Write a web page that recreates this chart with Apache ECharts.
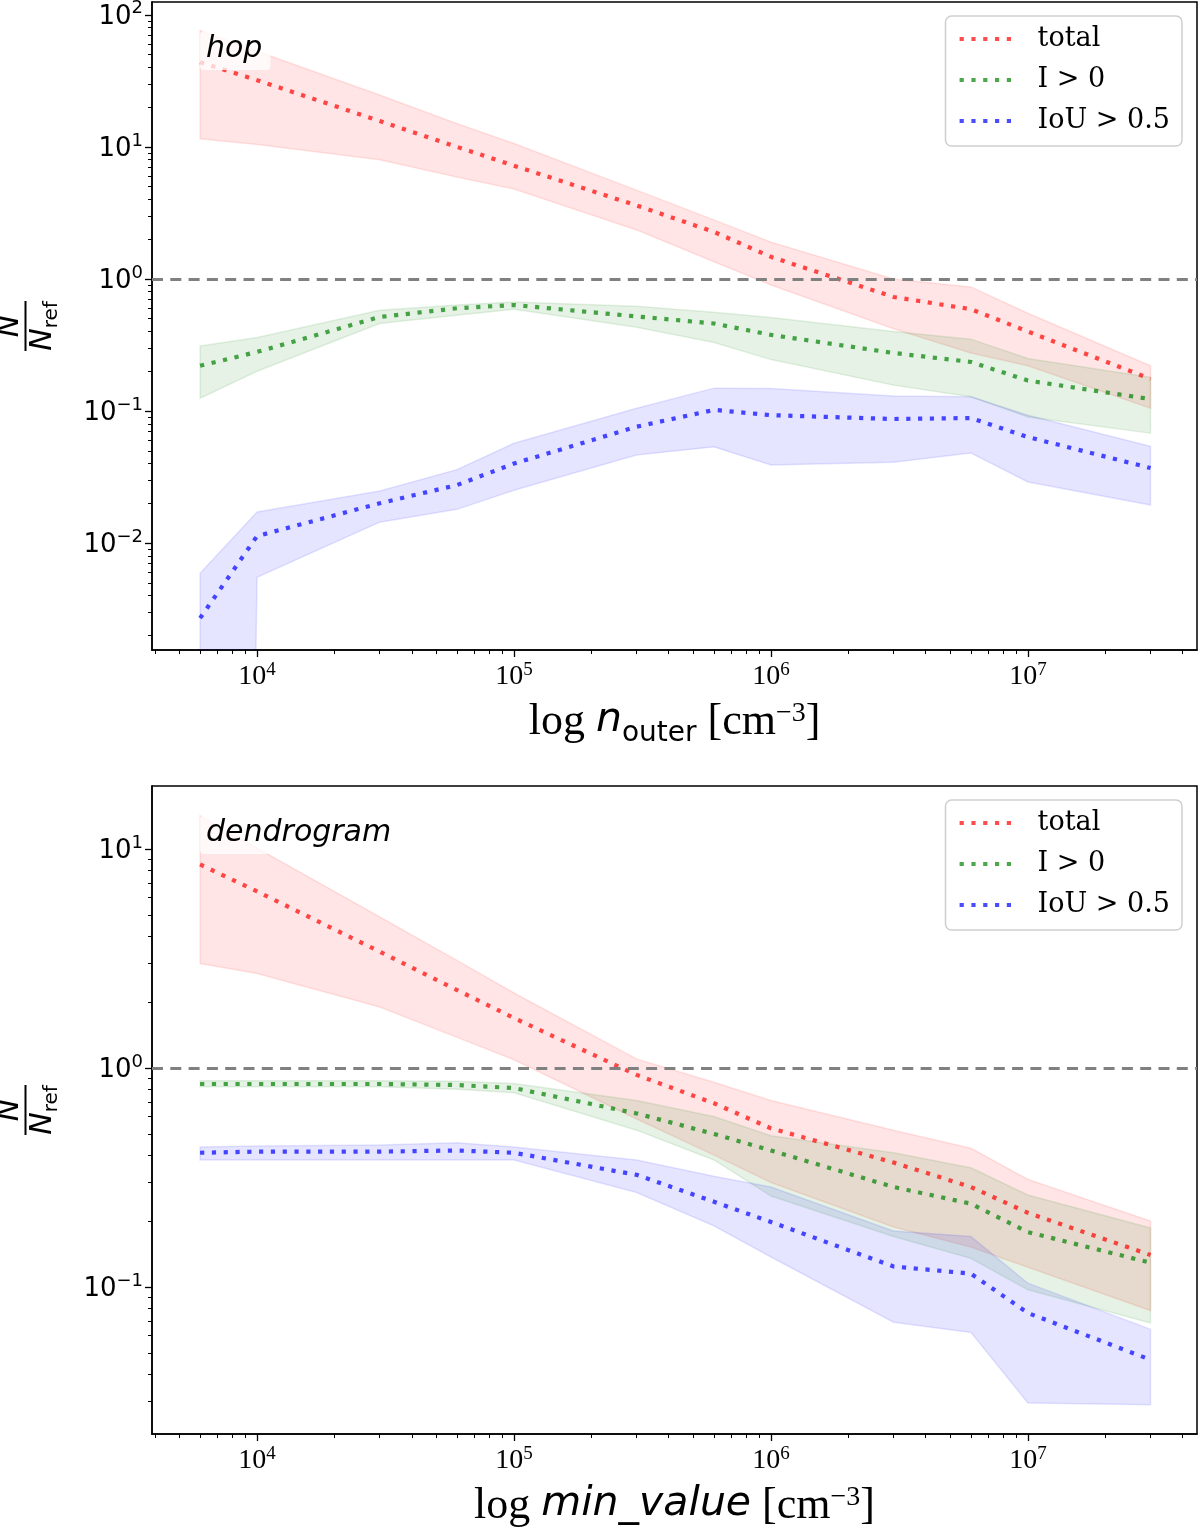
<!DOCTYPE html>
<html>
<head>
<meta charset="utf-8">
<title>N / Nref vs density threshold</title>
<script src="https://cdn.jsdelivr.net/npm/echarts@6/dist/echarts.min.js"></script>
<style>
  html, body { margin: 0; padding: 0; background: #fff; }
  #chart { width: 1200px; height: 1532px; }
</style>
</head>
<body>
<div id="chart"></div>
<script>
// x positions shared by both panels (cm^-3)
const xValues = [6e3, 1e4, 3e4, 6e4, 1e5, 3e5, 6e5, 1e6, 3e6, 6e6, 1e7, 3e7];
// stands for a lower bound of 0 (falls far below the log axis)
const ZERO = 1e-30;

// --- hop panel ---
const hopTotal = [43.8, 32, 15.7, 10, 7.2, 3.6, 2.27, 1.47, 0.73, 0.59, 0.40, 0.175];
const hopTotalHi = [76, 53, 24.7, 15, 10.6, 4.7, 2.8, 1.9, 1.0, 0.87, 0.55, 0.22];
const hopTotalLo = [11.5, 10.4, 8, 5.9, 4.8, 2.35, 1.35, 0.9, 0.42, 0.275, 0.22, 0.105];
const hopInter = [0.22, 0.28, 0.515, 0.6, 0.635, 0.52, 0.46, 0.377, 0.275, 0.235, 0.17, 0.123];
const hopInterHi = [0.31, 0.36, 0.58, 0.635, 0.67, 0.62, 0.56, 0.51, 0.40, 0.35, 0.25, 0.18];
const hopInterLo = [0.125, 0.2, 0.46, 0.53, 0.59, 0.43, 0.33, 0.245, 0.157, 0.128, 0.09, 0.068];
const hopIou = [0.0027, 0.0113, 0.02, 0.0275, 0.040, 0.076, 0.102, 0.093, 0.087, 0.0885, 0.0635, 0.037];
const hopIouHi = [0.0059, 0.0172, 0.0248, 0.036, 0.057, 0.105, 0.149, 0.148, 0.13, 0.128, 0.093, 0.054];
const hopIouLo = [ZERO, 0.0055, 0.0144, 0.018, 0.0251, 0.0465, 0.0535, 0.039, 0.041, 0.048, 0.029, 0.0194];

// --- dendrogram panel ---
const denTotal = [8.5, 6.4, 3.4, 2.27, 1.69, 0.93, 0.69, 0.53, 0.37, 0.286, 0.218, 0.14];
const denTotalHi = [14.2, 10.1, 4.9, 3.1, 2.2, 1.1, 0.86, 0.71, 0.52, 0.43, 0.31, 0.2];
const denTotalLo = [3.0, 2.7, 1.9, 1.38, 1.09, 0.585, 0.40, 0.30, 0.188, 0.152, 0.123, 0.078];
const denInter = [0.845, 0.845, 0.845, 0.836, 0.81, 0.62, 0.50, 0.42, 0.286, 0.24, 0.178, 0.129];
const denInterHi = [0.875, 0.875, 0.875, 0.87, 0.85, 0.71, 0.6, 0.49, 0.41, 0.35, 0.263, 0.186];
const denInterLo = [0.82, 0.82, 0.82, 0.80, 0.77, 0.52, 0.38, 0.26, 0.17, 0.135, 0.097, 0.0685];
const denIou = [0.41, 0.415, 0.415, 0.42, 0.41, 0.325, 0.245, 0.198, 0.124, 0.115, 0.076, 0.0465];
const denIouHi = [0.436, 0.44, 0.445, 0.455, 0.436, 0.38, 0.32, 0.286, 0.18, 0.17, 0.104, 0.064];
const denIouLo = [0.38, 0.38, 0.38, 0.38, 0.38, 0.27, 0.19, 0.137, 0.069, 0.062, 0.0295, 0.029];

const seriesNames = ['total', 'I > 0', 'IoU > 0.5'];
const panelLabels = ['hop', 'dendrogram'];
const xNames = [
  '{rm|log }{it|n}{sub|outer}{rm| [cm}{sup|−3}{rm|]}',
  '{rm|log }{it|min_value}{rm| [cm}{sup|−3}{rm|]}'
];

// axis ranges and ticks
const xRange = [3.9e3, 4.55e7];
const yRanges = [[1.55e-3, 125], [0.0213, 19.4]];
const xMajorTicks = [1e4, 1e5, 1e6, 1e7];
const yMajorTicks = [[1e-2, 1e-1, 1, 10, 100], [1e-1, 1, 10]];
const refLevel = 1;

const lineColors = ['rgba(255,0,0,0.7)', 'rgba(0,128,0,0.7)', 'rgba(0,0,255,0.7)'];
const bandColors = ['rgba(255,0,0,0.1)', 'rgba(0,128,0,0.1)', 'rgba(0,0,255,0.1)'];

// 2..9 x 10^e for every decade between lo and hi
function minorTicks(lo, hi) {
  const out = [];
  for (let e = lo; e <= hi; e++) {
    for (let m = 2; m <= 9; m++) out.push(+(m * Math.pow(10, e)).toPrecision(6));
  }
  return out;
}

function powLabel(value) {
  const e = Math.round(Math.log10(value));
  return '{b|10}{e|' + (e < 0 ? '−' + (-e) : e) + '}';
}

const panelData = [
  { mid: [hopTotal, hopInter, hopIou], lo: [hopTotalLo, hopInterLo, hopIouLo], hi: [hopTotalHi, hopInterHi, hopIouHi] },
  { mid: [denTotal, denInter, denIou], lo: [denTotalLo, denInterLo, denIouLo], hi: [denTotalHi, denInterHi, denIouHi] }
];

const gridTops = [2, 786];
const black = '#000';

const xTickRich = {
  b: { fontFamily: 'Liberation Serif', fontSize: 28, color: black, lineHeight: 30, verticalAlign: 'bottom' },
  e: { fontFamily: 'Liberation Serif', fontSize: 19, color: black, lineHeight: 30, verticalAlign: 'top' }
};
const yTickRich = {
  b: { fontFamily: 'DejaVu Sans', fontSize: 26, color: black, lineHeight: 30, verticalAlign: 'bottom' },
  e: { fontFamily: 'DejaVu Sans', fontSize: 18, color: black, lineHeight: 30, verticalAlign: 'top' }
};
const xNameRich = {
  rm: { fontFamily: 'Liberation Serif', fontSize: 44, color: black, lineHeight: 48, verticalAlign: 'top' },
  it: { fontFamily: 'DejaVu Sans', fontStyle: 'italic', fontSize: 41, color: black, lineHeight: 48, verticalAlign: 'top' },
  sub: { fontFamily: 'DejaVu Sans', fontSize: 28, color: black, lineHeight: 48, verticalAlign: 'bottom' },
  sup: { fontFamily: 'Liberation Serif', fontSize: 28, color: black, lineHeight: 48, verticalAlign: 'top' }
};
const yNameRich = {
  n: { fontFamily: 'DejaVu Sans', fontStyle: 'italic', fontSize: 30, color: black, lineHeight: 28, verticalAlign: 'top' },
  bar: { width: 50, height: 2, lineHeight: 5, backgroundColor: black, fontSize: 2 },
  ref: { fontFamily: 'DejaVu Sans', fontSize: 20, color: black, lineHeight: 34, verticalAlign: 'bottom' }
};
const yName = '{n|N}\n{bar| }\n{n|N}{ref|ref}';

const grids = [], xAxes = [], yAxes = [], series = [], legends = [], titles = [];

gridTops.forEach((top, p) => {
  grids.push({
    left: 152, top: top, width: 1045, height: 648,
    outerBoundsMode: 'none', containLabel: false,
    show: true, borderColor: black, borderWidth: 1.5
  });

  // major x axis with labels
  xAxes.push({
    gridIndex: p, type: 'log', min: xRange[0], max: xRange[1], position: 'bottom',
    axisLine: { show: true, lineStyle: { color: black, width: 1.5 } },
    axisTick: { show: true, customValues: xMajorTicks, length: 7, lineStyle: { color: black, width: 1.3 } },
    axisLabel: { customValues: xMajorTicks, formatter: powLabel, rich: xTickRich, margin: 11 },
    splitLine: { show: false },
    name: xNames[p], nameLocation: 'middle', nameGap: 50,
    nameTextStyle: { rich: xNameRich }
  });
  // minor x ticks
  xAxes.push({
    gridIndex: p, type: 'log', min: xRange[0], max: xRange[1], position: 'bottom',
    axisLine: { show: false },
    axisTick: { show: true, customValues: minorTicks(3, 7), length: 4, lineStyle: { color: black, width: 1 } },
    axisLabel: { show: false }, splitLine: { show: false }
  });

  yAxes.push({
    gridIndex: p, type: 'log', min: yRanges[p][0], max: yRanges[p][1], position: 'left',
    axisLine: { show: true, lineStyle: { color: black, width: 1.5 } },
    axisTick: { show: true, customValues: yMajorTicks[p], length: 7, lineStyle: { color: black, width: 1.3 } },
    axisLabel: { customValues: yMajorTicks[p], formatter: powLabel, rich: yTickRich, margin: 9 },
    splitLine: { show: false },
    name: yName, nameLocation: 'middle', nameRotate: 90, nameGap: 90,
    nameTextStyle: { rich: yNameRich, align: 'center' }
  });
  yAxes.push({
    gridIndex: p, type: 'log', min: yRanges[p][0], max: yRanges[p][1], position: 'left',
    axisLine: { show: false },
    axisTick: { show: true, customValues: minorTicks(-3, 2), length: 4, lineStyle: { color: black, width: 1 } },
    axisLabel: { show: false }, splitLine: { show: false }
  });

  const d = panelData[p];
  const axisIdx = p * 2;

  // shaded bands first
  for (let k = 0; k < 3; k++) {
    const color = bandColors[k];
    series.push({
      type: 'custom',
      xAxisIndex: axisIdx, yAxisIndex: axisIdx,
      silent: true, z: 1,
      data: xValues.map((x, i) => [x, d.lo[k][i], d.hi[k][i]]),
      encode: { x: 0, y: [1, 2] },
      renderItem: function (params, api) {
        if (params.dataIndexInside !== 0) return;
        const n = params.dataInsideLength;
        const upper = [], lower = [];
        for (let i = 0; i < n; i++) {
          upper.push(api.coord([api.value(0, i), api.value(2, i)]));
          lower.push(api.coord([api.value(0, i), api.value(1, i)]));
        }
        const cs = params.coordSys;
        return {
          type: 'polygon',
          shape: { points: upper.concat(lower.reverse()) },
          style: { fill: color, stroke: color, lineWidth: 1.5 },
          clipPath: { type: 'rect', shape: { x: cs.x, y: cs.y, width: cs.width, height: cs.height } }
        };
      }
    });
  }

  // dotted median lines
  for (let k = 0; k < 3; k++) {
    const s = {
      name: seriesNames[k], type: 'line',
      xAxisIndex: axisIdx, yAxisIndex: axisIdx,
      data: xValues.map((x, i) => [x, d.mid[k][i]]),
      symbol: 'none', z: 3,
      lineStyle: { color: lineColors[k], width: 4.2, type: [4.2, 7.6], cap: 'butt' },
      itemStyle: { color: lineColors[k] }
    };
    if (k === 0) {
      s.markLine = {
        silent: true, symbol: ['none', 'none'], label: { show: false },
        lineStyle: { color: '#808080', width: 3, type: [11, 7.3] },
        data: [{ yAxis: refLevel }]
      };
    }
    series.push(s);
  }

  legends.push({
    data: seriesNames, orient: 'vertical', right: 18, top: top + 14,
    selectedMode: false,
    itemWidth: 54, itemHeight: 14, itemGap: 11,
    padding: [8, 12, 10, 12],
    backgroundColor: 'rgba(255,255,255,0.8)',
    borderColor: '#cfcfcf', borderWidth: 1.5, borderRadius: 6,
    lineStyle: { width: 4.2 },
    itemStyle: { opacity: 0 },
    textStyle: { fontFamily: 'DejaVu Serif', fontSize: 27, color: black, lineHeight: 30, padding: [0, 0, 0, 19] }
  });

  titles.push({
    text: panelLabels[p], left: 200, top: top + 29,
    padding: [3, 8, 6, 6],
    backgroundColor: 'rgba(255,255,255,0.75)', borderRadius: 4,
    textStyle: { fontFamily: 'DejaVu Sans', fontStyle: 'italic', fontWeight: 'normal', fontSize: 30, color: black }
  });
});

const chart = echarts.init(document.getElementById('chart'));
chart.setOption({
  animation: false,
  backgroundColor: '#fff',
  title: titles,
  legend: legends,
  grid: grids,
  xAxis: xAxes,
  yAxis: yAxes,
  series: series
});
</script>
</body>
</html>
